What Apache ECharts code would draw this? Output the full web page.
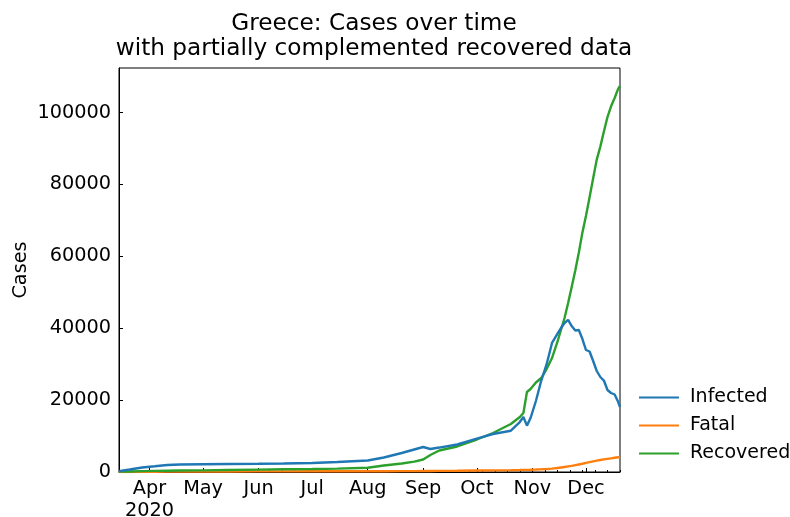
<!DOCTYPE html>
<html>
<head>
<meta charset="utf-8">
<script src="https://cdn.jsdelivr.net/npm/echarts@6/dist/echarts.min.js"></script>
<style>
  html, body { margin: 0; padding: 0; background: #fff; }
  #chart { width: 790px; height: 517px; }
</style>
</head>
<body>
<div id="chart"></div>
<script>
// Greece: daily case counts in 2020 (recovered figures partially complemented)
const dates = [
  '2020-03-15','2020-03-21','2020-03-28','2020-04-04','2020-04-11','2020-04-18',
  '2020-05-01','2020-05-15','2020-06-01','2020-06-15','2020-07-01','2020-07-15',
  '2020-08-01','2020-08-10','2020-08-20','2020-08-27','2020-09-01','2020-09-05',
  '2020-09-10','2020-09-20','2020-10-01','2020-10-10','2020-10-20','2020-10-25',
  '2020-10-27','2020-10-29','2020-10-31','2020-11-03','2020-11-06','2020-11-09',
  '2020-11-12','2020-11-15','2020-11-17','2020-11-19','2020-11-21','2020-11-23',
  '2020-11-25','2020-11-27','2020-11-29','2020-12-01','2020-12-03','2020-12-05',
  '2020-12-07','2020-12-09','2020-12-11','2020-12-13','2020-12-15','2020-12-17',
  '2020-12-19','2020-12-20'
];
const infected = [
  250, 700, 1250, 1590, 1950, 2090,
  2170, 2230, 2280, 2360, 2500, 2780,
  3200, 4030, 5290, 6260, 6950, 6400,
  6800, 7650, 9300, 10570, 11490, 13900,
  15300, 12900, 15000, 19750, 25450, 30000,
  35900, 38400, 40060, 41450, 42300, 40600,
  39370, 39500, 37000, 33940, 33520, 30880,
  28100, 26430, 25450, 22810, 21980, 21560,
  19470, 18080
];
const fatal = [
  5, 15, 30, 70, 95, 115,
  140, 155, 175, 185, 192, 195,
  210, 220, 235, 250, 270, 280,
  300, 340, 400, 450, 520, 560,
  580, 600, 630, 680, 750, 830,
  950, 1100, 1250, 1400, 1550, 1700,
  1900, 2100, 2300, 2550, 2750, 2950,
  3150, 3350, 3500, 3650, 3800, 3950,
  4100, 4170
];
const recovered = [
  100, 150, 250, 300, 350, 400,
  450, 550, 650, 750, 850, 950,
  1200, 1800, 2360, 2900, 3480, 4730,
  5980, 7100, 9040, 10850, 13350, 15300,
  16400, 22260, 23090, 24900, 26150, 28650,
  31700, 36170, 39500, 42840, 47000, 51470,
  56060, 61090, 66660, 71300, 76420, 81730,
  86910, 90530, 94730, 98760, 101740, 104050,
  106660, 107400
];
const seriesNames = ['Infected', 'Fatal', 'Recovered'];
const seriesColors = ['#1f77b4', '#ff7f0e', '#2ca02c'];
const yTicks = [0, 20000, 40000, 60000, 80000, 100000];
const monthNames = ['Jan','Feb','Mar','Apr','May','Jun','Jul','Aug','Sep','Oct','Nov','Dec'];

const DAY = 86400000;
function utc(s) {
  const p = s.split('-').map(Number);
  return Date.UTC(p[0], p[1] - 1, p[2]);
}
const xMin = utc(dates[0]);
const xMax = utc(dates[dates.length - 1]);
const yMax = 112400;
const FONT = 'DejaVu Sans';
const TICK_FONT = 19.3;
const TITLE_FONT = 23.2;

function pairs(values) {
  return dates.map((d, i) => [utc(d), values[i]]);
}

const chart = echarts.init(document.getElementById('chart'), null, { renderer: 'canvas' });

const option = {
  useUTC: true,
  animation: false,
  backgroundColor: '#fff',
  title: {
    text: 'Greece: Cases over time\nwith partially complemented recovered data',
    left: 369, top: 6,
    textAlign: 'center',
    textStyle: { fontFamily: FONT, fontSize: TITLE_FONT, fontWeight: 'normal', color: '#000', lineHeight: 25.5 }
  },
  legend: {
    orient: 'vertical',
    left: 634, top: 383,
    itemWidth: 40, itemHeight: 2,
    itemGap: 9,
    icon: 'rect',
    data: seriesNames,
    textStyle: { fontFamily: FONT, fontSize: 19, color: '#000', padding: [0, 0, 0, 6] }
  },
  grid: {
    left: 119, right: 170, top: 68, bottom: 45,
    outerBoundsMode: 'none',
    containLabel: false,
    show: true, borderColor: '#000', borderWidth: 1, backgroundColor: 'transparent'
  },
  xAxis: [
    {
      type: 'time',
      min: xMin, max: xMax,
      minInterval: 28 * DAY, maxInterval: 31 * DAY,
      axisLine: { show: true, lineStyle: { color: '#000', width: 1 } },
      axisTick: { show: true, inside: true, length: 4, lineStyle: { color: '#000', width: 1 } },
      splitLine: { show: false },
      axisLabel: {
        fontFamily: FONT, fontSize: TICK_FONT, color: '#000', margin: 6,
        showMinLabel: false, showMaxLabel: false,
        hideOverlap: false,
        formatter: function (val) {
          const d = new Date(val);
          if (d.getUTCDate() !== 1) return '';
          const m = monthNames[d.getUTCMonth()];
          return d.getUTCMonth() === 3 ? m + '\n' + d.getUTCFullYear() : m;
        },
        lineHeight: 22,
        fontWeight: 'normal'
      }
    },
    {
      // weekly minor ticks
      type: 'value',
      position: 'bottom',
      min: xMin, max: xMax, interval: 7 * DAY,
      axisLine: { show: false },
      axisTick: { show: true, inside: true, length: 2, lineStyle: { color: '#000', width: 1 } },
      axisLabel: { show: false },
      splitLine: { show: false }
    }
  ],
  yAxis: {
    type: 'value',
    min: 0, max: yMax, interval: 20000,
    name: 'Cases',
    nameLocation: 'middle',
    nameGap: 89,
    nameRotate: 90,
    nameMoveOverlap: false,
    nameTextStyle: { fontFamily: FONT, fontSize: TICK_FONT, color: '#000' },
    axisLine: { show: true, lineStyle: { color: '#000', width: 1 } },
    axisTick: { show: true, inside: true, length: 4, lineStyle: { color: '#000', width: 1 } },
    splitLine: { show: false },
    axisLabel: {
      fontFamily: FONT, fontSize: TICK_FONT, color: '#000', margin: 8,
      showMaxLabel: false,
      formatter: function (v) { return yTicks.indexOf(v) >= 0 ? String(v) : ''; }
    }
  },
  series: [infected, fatal, recovered].map((vals, i) => ({
    name: seriesNames[i],
    type: 'line',
    xAxisIndex: 0,
    data: pairs(vals),
    showSymbol: false,
    symbol: 'none',
    color: seriesColors[i],
    lineStyle: { width: 2.4, color: seriesColors[i] },
    z: 2 + (i === 0 ? 1 : 0)
  }))
};

chart.setOption(option);
</script>
</body>
</html>
